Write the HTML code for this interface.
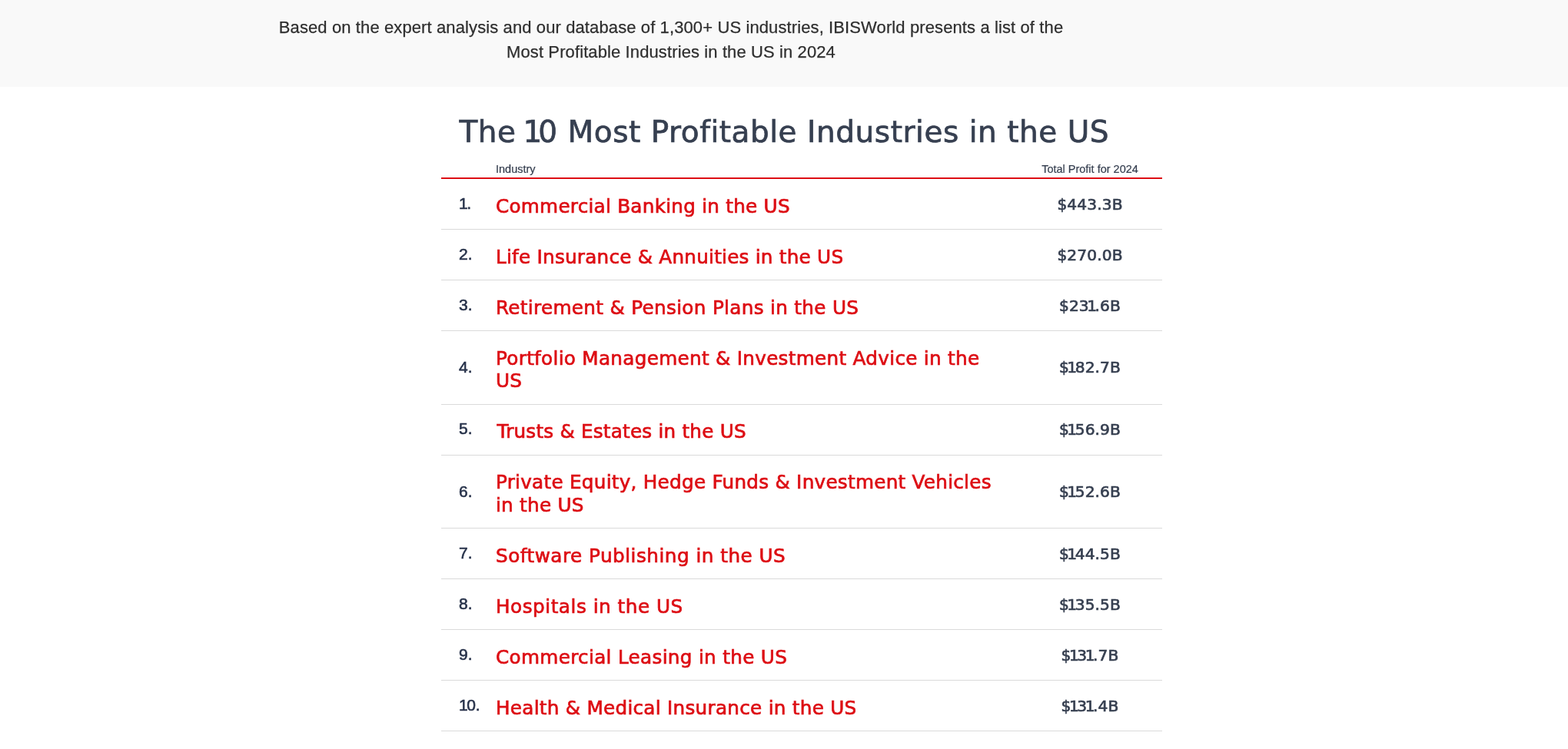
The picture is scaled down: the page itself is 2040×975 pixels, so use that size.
<!DOCTYPE html>
<html lang="en">
<head>
<meta charset="utf-8">
<title>The 10 Most Profitable Industries in the US</title>
<style>
  html, body { margin: 0; padding: 0; }
  body {
    width: 2040px; height: 975px; overflow: hidden; position: relative;
    background: #ffffff;
    font-family: "Liberation Sans", Arial, sans-serif;
  }
  .intro {
    position: absolute; left: 0; top: 0; width: 2040px; height: 113px;
    background: #f9f9f9;
  }
  .intro p {
    position: absolute; left: 353px; width: 1040px; top: 20px; margin: 0;
    text-align: center; font-size: 22px; line-height: 32px; color: #2f2f2f; letter-spacing: 0.11px; -webkit-text-stroke: 0.25px #2f2f2f;
  }
  h1 {
    position: absolute; left: 597.5px; top: 148px; margin: 0;
    font-family: "DejaVu Sans", sans-serif;
    font-size: 39px; line-height: 48px; letter-spacing: 0.52px; -webkit-text-stroke: 0.7px #363f50; font-weight: normal; color: #363f50;
    white-space: nowrap;
  }
  h1 .one { margin-left: -4px; margin-right: -5.5px; }
  td.n .one { margin-right: -1.5px; }
  td.p .one { margin-left: -2.6px; margin-right: -2.6px; }
  table {
    position: absolute; left: 574px; top: 206px; width: 938px;
    border-collapse: collapse; table-layout: fixed;
  }
  th {
    font-weight: normal; font-size: 14.5px; color: #363f50; text-align: left;
    padding: 0 0 3px 0; height: 22px; vertical-align: bottom;
    border-bottom: 2px solid #dd0e14; -webkit-text-stroke: 0.2px #363f50;
  }
  th.p { text-align: center; }
  td { border-bottom: 1px solid #dadada; vertical-align: middle; padding: 0; }
  td.n { padding-left: 23px; padding-bottom: 2px; font-size: 21px; color: #27324a; -webkit-text-stroke: 0.6px #27324a; }
  td.n2 { padding-bottom: 0; }
  td.i { font-family: "DejaVu Sans", sans-serif; font-size: 24.7px; line-height: 29.5px; color: #dd0e14; padding: 20.75px 0 14.75px 0; letter-spacing: 0.2px; -webkit-text-stroke: 0.7px #dd0e14; }
  td.p { font-family: "DejaVu Sans", sans-serif; text-align: center; font-size: 20.2px; color: #363f50; letter-spacing: 0.1px; -webkit-text-stroke: 0.7px #363f50; }
</style>
</head>
<body>
<div class="intro">
  <p>Based on the expert analysis and our database of 1,300+ US industries, IBISWorld presents a list of the<br>Most Profitable Industries in the US in 2024</p>
</div>
<h1>The <span class="one">1</span>0 Most Profitable Industries in the US</h1>
<table>
  <colgroup><col style="width:71px"><col style="width:679px"><col style="width:188px"></colgroup>
  <thead>
    <tr><th></th><th>Industry</th><th class="p">Total Profit for 2024</th></tr>
  </thead>
  <tbody>
    <tr><td class="n"><span class="one">1</span>.</td><td class="i" style="letter-spacing:0.244px">Commercial Banking in the US</td><td class="p">$443.3B</td></tr>
    <tr><td class="n">2.</td><td class="i" style="letter-spacing:0.231px">Life Insurance &amp; Annuities in the US</td><td class="p">$270.0B</td></tr>
    <tr><td class="n">3.</td><td class="i" style="letter-spacing:0.317px">Retirement &amp; Pension Plans in the US</td><td class="p">$23<span class="one">1</span>.6B</td></tr>
    <tr><td class="n n2">4.</td><td class="i" style="letter-spacing:0.293px">Portfolio Management &amp; Investment Advice in the<br>US</td><td class="p">$<span class="one">1</span>82.7B</td></tr>
    <tr><td class="n">5.</td><td class="i" style="letter-spacing:0.208px;text-indent:1.5px">Trusts &amp; Estates in the US</td><td class="p">$<span class="one">1</span>56.9B</td></tr>
    <tr><td class="n n2">6.</td><td class="i" style="letter-spacing:0.256px">Private Equity, Hedge Funds &amp; Investment Vehicles<br>in the US</td><td class="p">$<span class="one">1</span>52.6B</td></tr>
    <tr><td class="n">7.</td><td class="i" style="letter-spacing:0.486px">Software Publishing in the US</td><td class="p">$<span class="one">1</span>44.5B</td></tr>
    <tr><td class="n">8.</td><td class="i" style="letter-spacing:0.520px">Hospitals in the US</td><td class="p">$<span class="one">1</span>35.5B</td></tr>
    <tr><td class="n">9.</td><td class="i" style="letter-spacing:0.310px">Commercial Leasing in the US</td><td class="p">$<span class="one">1</span>3<span class="one">1</span>.7B</td></tr>
    <tr><td class="n"><span class="one">1</span>0.</td><td class="i" style="letter-spacing:0.269px">Health &amp; Medical Insurance in the US</td><td class="p">$<span class="one">1</span>3<span class="one">1</span>.4B</td></tr>
  </tbody>
</table>
</body>
</html>
